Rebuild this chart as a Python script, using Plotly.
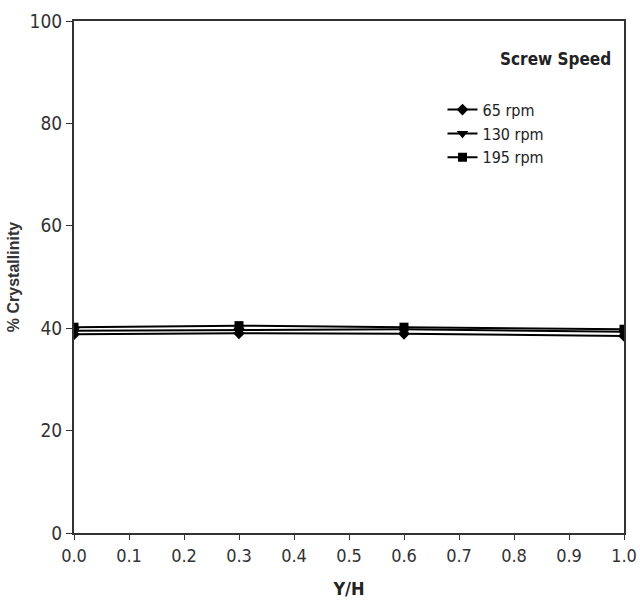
import plotly.graph_objects as go

x_vals = [0.0, 0.3, 0.6, 1.0]
rpm65 = [38.8, 39.0, 38.9, 38.5]
rpm130 = [39.5, 39.6, 39.8, 39.3]
rpm195 = [40.2, 40.5, 40.2, 39.8]
series_names = ["65 rpm", "130 rpm", "195 rpm"]
symbols = ["diamond", "triangle-down", "square"]
sizes = [9, 10, 9]

narrow = "DejaVu Sans Condensed, Liberation Sans Narrow, sans-serif"

fig = go.Figure()
for name, ys, sym, sz in zip(series_names, [rpm65, rpm130, rpm195], symbols, sizes):
    fig.add_trace(go.Scatter(
        x=x_vals, y=ys, mode="lines+markers", name=name,
        line=dict(color="black", width=2),
        marker=dict(symbol=sym, size=sz, color="black"),
    ))

fig.update_layout(
    width=640, height=608,
    margin=dict(l=74, r=16, t=21, b=75),
    paper_bgcolor="white", plot_bgcolor="white",
    font=dict(family=narrow, color="#222", size=17),
    showlegend=True,
    legend=dict(x=0.67, y=0.86, xanchor="left", yanchor="top",
                font=dict(family=narrow, size=16, color="#222"),
                bgcolor="rgba(0,0,0,0)", itemwidth=30, tracegroupgap=0),
    xaxis=dict(range=[0, 1.0], tickmode="array",
               tickvals=[i / 10 for i in range(11)],
               ticktext=[f"{i/10:.1f}" for i in range(11)],
               showgrid=False, zeroline=False, showline=True, linecolor="#333",
               linewidth=2, mirror=True, ticks="outside", ticklen=5,
               tickcolor="#333", tickfont=dict(family=narrow, size=18, color="#333"),
               automargin=False,
               title=dict(text="<b>Y/H</b>", font=dict(family=narrow, size=18, color="#222"), standoff=18)),
    yaxis=dict(range=[0, 100], tickvals=[0, 20, 40, 60, 80, 100],
               showgrid=False, zeroline=False, showline=True, linecolor="#333",
               linewidth=2, mirror=True, ticks="outside", ticklen=6,
               tickcolor="#333", tickfont=dict(family=narrow, size=19, color="#333"),
               automargin=False,
               title=dict(text="<b>% Crystallinity</b>",
                          font=dict(family="Liberation Sans, Arial, sans-serif", size=16, color="#333"),
                          standoff=6)),
)

fig.add_annotation(text="<b>Screw Speed</b>", xref="paper", yref="paper",
                   x=0.875, y=0.925, xanchor="center", yanchor="middle", showarrow=False,
                   font=dict(family=narrow, size=17, color="#222"))

fig.write_html("out.html")
